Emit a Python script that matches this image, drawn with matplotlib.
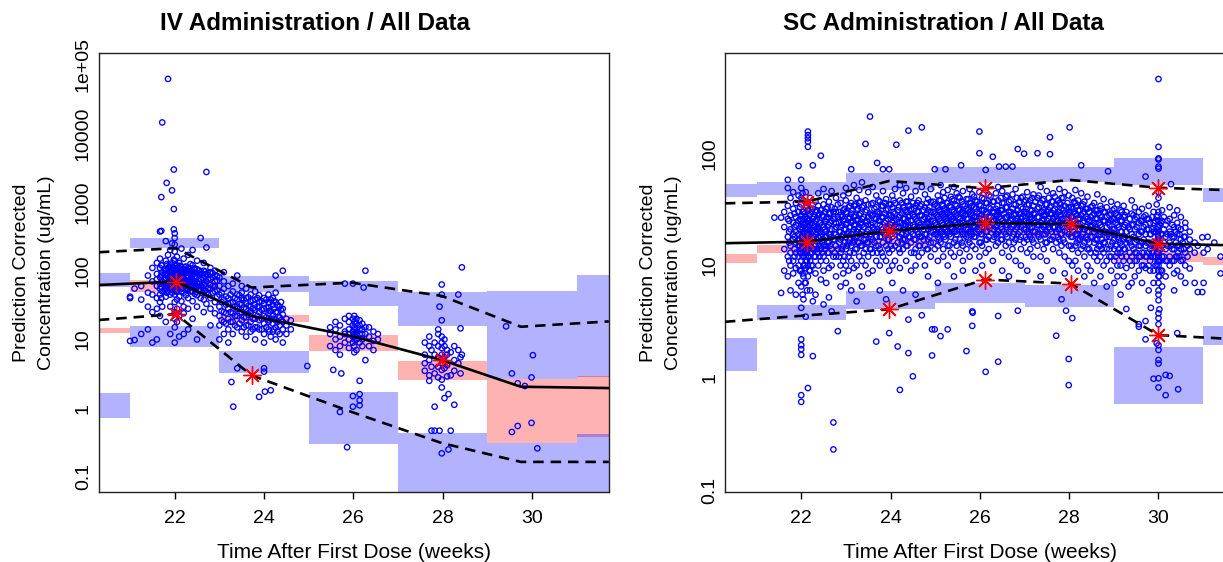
import matplotlib
matplotlib.use("Agg")
import matplotlib.pyplot as plt
from matplotlib.ticker import FixedLocator, FixedFormatter, NullLocator

plt.rcParams.update({"font.family": ["Liberation Sans", "DejaVu Sans"]})

W, H = 1223, 562

# ---- bins of the prediction intervals (weeks) ----
bin_lo = [20.0, 21, 23, 25, 27, 29, 31]
bin_hi = [21, 23, 25, 27, 29, 31, 33]

# ---- IV: simulated CI boxes (95th / median / 5th) ----
iv_p95_lo = [58.1, 213, 49.6, 30.7, 15.7, 2.7, 2.86]
iv_p95_hi = [93.8, 304, 84, 71.8, 49.6, 51, 87]
iv_p50_lo = [12.5, 49, 18.1, 6.8, 2.56, 0.31, 0.38]
iv_p50_hi = [14.5, 73, 22.7, 11.6, 4.9, 2.7, 2.9]
iv_p05_lo = [0.71, 7.7, 3.3, 0.305, 0.01, 0.01, 0.01]
iv_p05_hi = [1.67, 15.8, 6.8, 1.73, 0.43, 0.31, 0.42]

# ---- IV: observed percentile lines ----
iv_line_x = [20.3, 22.03, 23.72, 25.96, 27.98, 29.75, 31.72]
iv_med = [62, 69.4, 22, 11.2, 5.0, 2.05, 1.96]
iv_upp = [186, 213, 57, 67, 43, 15.3, 18.3]
iv_low = [19.2, 23.4, 3.0, 0.88, 0.31, 0.165, 0.165]
iv_star_x = [22.03, 22.03, 23.72, 27.98]
iv_star_y = [69.4, 23.4, 3.0, 5.0]

# ---- IV: observations (time, list of concentrations) ----
iv_cols = [
    (21.0, [42, 40, 9.5]), (21.1, [55, 9.8]), (21.25, [38, 60, 12]),
    (21.4, [48, 85, 30, 14]), (21.5, [70, 45, 110, 25, 9]),
    (21.6, [60, 90, 40, 130, 28, 75, 10]),
    (21.67, [373, 55, 80, 110, 150, 35, 65, 45, 22]),
    (21.7, [380, 1180, 58, 88, 120, 40]),
    (21.72, [14400, 70, 95, 120, 50, 30, 85]),
    (21.78, [65, 88, 52, 105, 75]),
    (21.8, [60, 100, 140, 75, 42, 55, 18, 270]),
    (21.82, [1900, 66, 92, 125, 48]),
    (21.85, [62000, 80, 65, 110, 90, 50, 170]),
    (21.88, [72, 98, 60, 115, 82]),
    (21.9, [70, 95, 58, 120, 45, 85, 200, 30, 12]),
    (21.92, [64, 90, 54, 108]),
    (21.94, [1480, 75, 60, 100, 130, 48, 88, 250]),
    (21.98, [790, 2970, 400, 68, 82, 105, 57, 145]),
    (22.0, [66, 80, 55, 110, 95, 140, 45, 70, 35, 25, 300, 350, 190, 9, 15, 20, 240]),
    (22.02, [75, 100, 62, 120, 85, 50]),
    (22.05, [72, 60, 90, 120, 50, 160, 38, 28, 18, 64, 85]),
    (22.08, [68, 92, 58, 112, 78]),
    (22.1, [65, 85, 55, 105, 130, 42, 75, 22, 11, 96]),
    (22.12, [74, 99, 61, 118]),
    (22.15, [70, 95, 50, 115, 60, 36, 210, 78]),
    (22.18, [66, 89, 55, 105, 80]),
    (22.2, [62, 88, 48, 100, 150, 30, 75, 24, 12]),
    (22.22, [71, 95, 59, 113]),
    (22.25, [68, 92, 56, 80, 115, 44]),
    (22.28, [64, 86, 53, 102]),
    (22.3, [55, 80, 110, 40, 68, 95, 170, 28, 14]),
    (22.33, [70, 93, 58, 110]),
    (22.35, [74, 62, 98, 50, 125]),
    (22.38, [62, 84, 51, 98]),
    (22.4, [70, 50, 90, 120, 36, 60, 200, 20]),
    (22.43, [67, 90, 55, 106]),
    (22.45, [64, 84, 46, 108]),
    (22.48, [60, 81, 49, 94]),
    (22.5, [58, 82, 44, 105, 65, 30, 140, 10]),
    (22.55, [65, 87, 53, 101]),
    (22.58, [300, 60, 75, 40, 95, 52]),
    (22.62, [58, 79, 47, 91]),
    (22.65, [52, 78, 38, 100, 62, 25, 130]),
    (22.68, [63, 84, 51, 97]),
    (22.71, [2740, 218, 70, 48, 90, 33]),
    (22.75, [56, 76, 45, 88]),
    (22.8, [55, 75, 40, 95, 62, 28, 110, 16]),
    (22.85, [60, 80, 48, 92]),
    (22.9, [50, 70, 35, 85, 60, 24, 100]),
    (22.95, [52, 72, 42, 84]),
    (23.0, [45, 30, 60, 22, 80, 16, 10]),
    (23.05, [35, 26, 48, 19]),
    (23.1, [38, 55, 25, 70, 18, 12, 95]),
    (23.15, [32, 24, 42, 17]),
    (23.2, [40, 28, 60, 20, 33, 14, 9]),
    (23.25, [34, 25, 45, 18]),
    (23.27, [2.4]), (23.31, [1.05]),
    (23.3, [35, 50, 24, 18, 65, 12]),
    (23.35, [30, 22, 40, 16]),
    (23.4, [30, 45, 22, 38, 15, 28, 3.8, 85]),
    (23.45, [33, 24, 44, 17]),
    (23.5, [32, 25, 48, 19, 40, 13, 60]),
    (23.55, [29, 21, 38, 15]),
    (23.6, [28, 40, 21, 55, 16, 34, 11]),
    (23.65, [31, 23, 41, 16]),
    (23.7, [30, 24, 45, 18, 36, 13, 26]),
    (23.75, [28, 20, 37, 14]),
    (23.8, [27, 38, 20, 50, 15, 32, 10]),
    (23.85, [30, 22, 40, 15]),
    (23.89, [25, 35, 19, 44, 14, 30, 1.46]),
    (23.95, [27, 20, 36, 14]),
    (24.0, [28, 22, 40, 17, 33, 12, 3.8, 3.4, 9]),
    (24.02, [1.74]),
    (24.05, [29, 21, 38, 15]),
    (24.1, [24, 35, 18, 45, 14, 29]),
    (24.12, [26, 19, 34, 13]),
    (24.15, [26, 20, 38, 1.82, 11]),
    (24.2, [22, 32, 17, 40, 13]),
    (24.22, [28, 20, 36, 14]),
    (24.26, [85, 25, 19, 35, 15, 48, 10]),
    (24.3, [25, 18, 32, 13]),
    (24.35, [21, 30, 16, 12]),
    (24.38, [27, 19, 35]),
    (24.42, [100, 23, 18, 28, 14, 9]),
    (24.5, [20, 16, 12]),
    (24.6, [19, 14]),
    (24.97, [4.1]),
    (25.48, [12, 8, 15]), (25.55, [3.6]),
    (25.6, [10, 14, 7, 18]),
    (25.7, [11, 16, 8, 6, 0.88]), (25.73, [3.2]),
    (25.81, [65, 13, 9, 20, 12]), (25.86, [0.27]),
    (25.9, [14, 10, 18, 7.5, 22, 12]),
    (25.99, [65, 16, 11, 20, 13, 9, 1.5, 1.05]),
    (26.02, [15, 12, 18, 10, 22, 8, 14, 6.5, 11]),
    (26.07, [13, 17, 10, 20, 7, 12]),
    (26.14, [16, 12, 19, 9, 14, 1.6, 1.3, 2.5, 1.1]),
    (26.2, [14, 10, 17, 8, 12]),
    (26.27, [100, 5.0, 12, 15]), (26.23, [57]),
    (26.35, [11, 15, 8]), (26.45, [13, 9.5, 7]), (26.55, [10, 12]),
    (27.6, [4.5, 6, 3.5, 9]),
    (27.7, [5, 8, 3, 11, 2.5]),
    (27.75, [7, 4, 0.47]),
    (27.82, [6, 9, 3.2, 1.05, 0.47]),
    (27.9, [5.5, 8, 12, 4, 2.8, 14]),
    (27.93, [30, 0.47]),
    (27.98, [6, 4.5, 9, 7.5, 3.6, 19, 2.6, 11, 0.22, 63, 45, 2.0]),
    (28.04, [5.5, 8, 3.8, 1.4, 10]),
    (28.1, [7, 4.2, 6, 2.9]),
    (28.13, [0.25, 1.6]),
    (28.18, [0.47, 6.5, 3]),
    (28.26, [5, 8, 1.12, 3.5]),
    (28.35, [45, 7, 4.5]),
    (28.4, [14.5, 5.5, 3.2]),
    (28.43, [112, 6]),
    (29.42, [15.5]), (29.55, [3.2, 0.45]), (29.68, [2.3, 0.55]),
    (29.84, [2.1]), (29.99, [2.8, 0.61]), (30.02, [5.9]), (30.12, [0.26]),
]

# ---- SC: simulated CI boxes ----
sc_p95_lo = [41.0, 42.5, 47.1, 54, 55.8, 52.1, 37.1]
sc_p95_hi = [53.0, 55.8, 67.1, 76, 76, 90.2, 48.7]
sc_p50_lo = [10.6, 13.0, 14.9, 18.7, 17.5, 10.8, 10.1]
sc_p50_hi = [12.7, 15.2, 17.6, 22.2, 20.7, 13.3, 12.0]
sc_p05_lo = [1.15, 3.27, 4.07, 4.66, 4.3, 0.59, 1.95]
sc_p05_hi = [2.24, 4.45, 5.96, 6.93, 6.7, 1.87, 2.9]

# ---- SC: observed percentile lines ----
sc_line_x = [20.29, 22.13, 23.97, 26.11, 28.03, 30.0, 31.8]
sc_med = [15.8, 16.3, 20.3, 24.0, 23.4, 15.6, 15.1]
sc_upp = [35.8, 37.1, 56.6, 48.7, 57.8, 49.3, 46.5]
sc_low = [3.15, 3.6, 4.07, 7.5, 6.9, 2.4, 2.2]
sc_star_x = [22.13, 26.11, 30.0, 22.13, 23.97, 26.11, 28.03, 30.0, 23.97, 26.11, 28.03, 30.0]
sc_star_y = [37.1, 48.7, 49.3, 16.3, 20.3, 24.0, 23.4, 15.6, 4.07, 7.5, 6.9, 2.4]

# ---- SC: observations ----
sc_cols = [
    (21.40, [26.7]), (21.55, [26.7, 5.7]),
    (21.62, [14, 22, 9, 30]),
    (21.70, [18, 12, 26, 34, 8, 49, 58]),
    (21.73, [16, 20, 11, 25]),
    (21.76, [15, 21, 10, 28, 40, 13, 6]),
    (21.82, [17, 24, 11, 32, 19, 8.5, 45]),
    (21.85, [14, 18, 22, 29, 12]),
    (21.88, [13, 20, 27, 16, 36, 9.5, 23, 5.5]),
    (21.94, [15, 19, 25, 12, 30, 42, 17, 10, 7, 77]),
    (21.97, [13, 17, 21, 26, 33, 9, 15]),
    (22.00, [16, 13, 22, 28, 11, 35, 18, 9, 40, 25, 6.5, 14, 2.2, 1.95, 1.8, 1.6,
             0.70, 0.61, 4.2, 58, 49]),
    (22.03, [15, 19, 24, 12, 30, 8.5, 17, 21, 5.5, 44]),
    (22.05, [17, 23, 12, 30, 15, 20, 8, 38, 26, 10, 5, 13]),
    (22.08, [14, 18, 23, 29, 10, 16, 20, 7]),
    (22.10, [15, 21, 27, 11, 33, 18, 14, 9.5, 45, 24, 7, 3.5, 12]),
    (22.13, [17, 13, 21, 26, 34, 11, 15, 19, 6]),
    (22.15, [16, 12, 25, 19, 31, 10, 22, 8, 36, 14, 156, 145, 136, 127, 114, 0.81]),
    (22.18, [15, 20, 25, 12, 17, 28, 9]),
    (22.20, [18, 24, 13, 29, 15, 21, 9, 40, 11, 6]),
    (22.23, [16, 19, 24, 13, 30, 10]),
    (22.26, [17, 14, 26, 20, 32, 10, 23, 78, 1.56, 4.8]),
    (22.29, [18, 22, 14, 27, 12]),
    (22.32, [19, 15, 25, 12, 30, 22, 8.5, 37, 5.5]),
    (22.35, [17, 21, 26, 14, 31]),
    (22.38, [16, 21, 28, 13, 34, 18, 10, 44]),
    (22.41, [15, 20, 24, 12, 29]),
    (22.44, [18, 24, 14, 31, 20, 11, 95, 7.5]),
    (22.47, [19, 23, 16, 28, 13]),
    (22.50, [17, 22, 27, 15, 35, 12, 9, 48, 4.5]),
    (22.53, [18, 21, 25, 14, 30]),
    (22.56, [20, 15, 26, 32, 18, 11, 41, 7]),
    (22.59, [16, 22, 27, 13, 33]),
    (22.62, [16, 23, 29, 13, 37, 19, 9.5, 5.2]),
    (22.65, [19, 24, 15, 29]),
    (22.68, [18, 14, 25, 33, 21, 10, 46, 3.9]),
    (22.72, [0.40, 0.23, 17, 26, 12, 30]),
    (22.75, [17, 21, 26, 13, 32]),
    (22.78, [19, 24, 15, 30, 12, 40, 8, 22]),
    (22.82, [2.6, 18, 27, 14, 35]),
    (22.85, [20, 24, 16, 30, 12]),
    (22.88, [17, 22, 13, 28, 36, 10, 20, 6.5]),
    (22.91, [18, 23, 27, 14]),
    (22.94, [19, 25, 15, 31, 11, 42, 8.5]),
    (22.97, [21, 26, 16, 32, 12]),
    (23.00, [18, 23, 14, 30, 21, 38, 10, 49, 7]),
    (23.03, [19, 24, 29, 15]),
    (23.06, [20, 26, 16, 33, 12, 44, 9]),
    (23.09, [22, 27, 17, 34, 13]),
    (23.12, [19, 24, 15, 29, 36, 11, 72, 6]),
    (23.15, [20, 25, 31, 16]),
    (23.18, [21, 17, 27, 13, 34, 23, 9.5, 52]),
    (23.21, [23, 28, 18, 35, 14]),
    (23.24, [18, 25, 14, 31, 20, 40, 10, 4.8]),
    (23.27, [21, 26, 16, 32]),
    (23.30, [22, 16, 28, 12, 36, 19, 8, 47]),
    (23.33, [19, 24, 29, 15, 37]),
    (23.36, [20, 26, 15, 33, 23, 11, 55, 6.5]),
    (23.40, [22, 27, 17, 34, 13]),
    (23.44, [19, 24, 30, 14, 38, 121, 10, 17]),
    (23.47, [20, 25, 31, 16]),
    (23.50, [21, 27, 16, 35, 12, 45, 8.5, 23]),
    (23.54, [212, 19, 29, 14]),
    (23.57, [23, 28, 18, 35, 14]),
    (23.60, [22, 17, 28, 36, 13, 24, 50, 9]),
    (23.64, [21, 26, 32, 16]),
    (23.68, [20, 26, 15, 33, 2.1, 11, 42, 18]),
    (23.70, [82, 21, 30, 13]),
    (23.73, [20, 25, 30, 15, 38]),
    (23.76, [23, 18, 29, 37, 14, 25, 10, 6]),
    (23.80, [22, 27, 18, 34, 13]),
    (23.83, [72, 21, 27, 16, 34, 12, 46]),
    (23.87, [24, 29, 19, 36]),
    (23.90, [20, 25, 31, 15, 39, 22, 11, 5]),
    (23.94, [21, 26, 17, 32, 14]),
    (23.97, [72, 2.5, 22, 28, 17, 35, 13, 9]),
    (24.01, [23, 28, 19, 35, 15]),
    (24.04, [21, 27, 18, 33, 14, 42, 24, 10, 7]),
    (24.07, [25, 30, 20, 38]),
    (24.10, [23, 19, 29, 36, 15, 48, 11]),
    (24.13, [119, 22, 26]),
    (24.16, [1.9, 20, 31, 16]),
    (24.19, [22, 27, 18, 33, 14]),
    (24.21, [0.78, 24, 18, 28, 38, 13, 52, 9.5]),
    (24.25, [24, 29, 19, 36, 16]),
    (24.28, [21, 26, 17, 33, 14, 44, 23, 6]),
    (24.32, [21, 26, 31, 17]),
    (24.35, [23, 19, 30, 37, 15, 11, 49]),
    (24.38, [25, 30, 20, 37, 15]),
    (24.40, [3.3, 1.66, 22, 27, 18, 34, 159]),
    (24.43, [23, 28, 18, 34]),
    (24.46, [20, 25, 16, 32, 13, 41, 9]),
    (24.50, [1.03, 23, 28, 19, 36]),
    (24.53, [22, 27, 32, 17, 13]),
    (24.56, [21, 26, 17, 34, 14, 46, 10, 5.5]),
    (24.60, [25, 30, 20, 36]),
    (24.63, [24, 19, 30, 38, 15, 22, 12]),
    (24.66, [23, 28, 18, 34, 15]),
    (24.70, [170, 3.6, 22, 28, 18, 35, 13, 50]),
    (24.74, [21, 26, 31, 17]),
    (24.77, [23, 27, 19, 33, 15, 43, 10]),
    (24.81, [24, 29, 19, 36, 14]),
    (24.84, [21, 26, 17, 31, 14, 39, 24, 8]),
    (24.87, [22, 27, 33, 18]),
    (24.90, [25, 20, 30, 37, 16, 12, 48]),
    (24.93, [1.58, 2.7, 22]),
    (24.96, [25, 30, 20, 37, 16]),
    (24.99, [72, 2.7, 24, 29, 19, 35, 14]),
    (25.03, [23, 28, 19, 34]),
    (25.06, [22, 27, 18, 33, 15, 42, 11, 7]),
    (25.09, [26, 31, 21, 38, 17]),
    (25.12, [2.35, 25, 20, 30, 38, 16, 52]),
    (25.15, [24, 29, 20, 35]),
    (25.18, [23, 28, 19, 34, 14, 45, 12]),
    (25.21, [27, 32, 22, 40, 18]),
    (25.23, [72, 26, 21, 31, 17]),
    (25.26, [25, 30, 20, 36]),
    (25.28, [2.7, 24, 29, 20, 36, 15, 47, 10]),
    (25.32, [23, 28, 19, 34, 15]),
    (25.35, [22, 27, 18, 33, 25, 13, 41]),
    (25.38, [26, 31, 21, 39]),
    (25.42, [25, 30, 20, 38, 16, 50, 12, 8]),
    (25.45, [24, 29, 20, 35, 17]),
    (25.48, [23, 28, 19, 34, 15, 44]),
    (25.52, [27, 32, 22, 41]),
    (25.55, [26, 21, 31, 40, 17, 24, 13]),
    (25.58, [78, 22, 29]),
    (25.60, [25, 30, 20, 37, 16]),
    (25.62, [24, 29, 19, 35, 15, 46, 11, 9]),
    (25.66, [23, 28, 19, 34]),
    (25.70, [1.73, 26, 21, 32, 18, 39, 14]),
    (25.74, [26, 31, 21, 39, 17]),
    (25.77, [24, 30, 20, 36, 16, 48, 12]),
    (25.80, [24, 29, 20, 36]),
    (25.83, [2.9, 3.9, 25, 28, 19, 34, 15, 43]),
    (25.84, [3.8, 22]),
    (25.87, [27, 33, 22, 41, 18]),
    (25.90, [27, 22, 32, 38, 18, 25, 14, 9]),
    (25.94, [25, 30, 21, 37]),
    (25.99, [156, 100, 24, 29, 20, 35, 16, 45, 12]),
    (26.02, [23, 28, 19, 34, 16]),
    (26.05, [26, 22, 31, 19, 40, 15, 28, 10]),
    (26.09, [26, 31, 22, 39]),
    (26.13, [71, 1.13, 24, 30, 20, 36, 17, 47, 13]),
    (26.16, [24, 29, 20, 36, 17]),
    (26.20, [27, 22, 33, 18, 42, 25, 14]),
    (26.24, [27, 32, 22, 41]),
    (26.29, [93, 25, 30, 21, 37, 17, 11]),
    (26.32, [25, 30, 21, 37, 18]),
    (26.36, [26, 22, 32, 19, 44, 15, 28]),
    (26.39, [23, 28, 19, 34]),
    (26.41, [3.55, 1.39, 24, 30, 20, 38, 16, 50]),
    (26.43, [76, 27]),
    (26.47, [26, 31, 22, 40, 17]),
    (26.50, [25, 31, 21, 36, 17, 46, 13, 9]),
    (26.54, [24, 29, 20, 36]),
    (26.58, [76, 27, 23, 33, 19, 41, 15]),
    (26.61, [27, 33, 23, 42, 18]),
    (26.65, [24, 30, 20, 37, 16, 28, 12, 8]),
    (26.69, [25, 30, 21, 38]),
    (26.73, [76, 26, 22, 32, 18, 43, 14]),
    (26.76, [23, 28, 19, 35, 16]),
    (26.80, [25, 29, 21, 35, 17, 48, 11]),
    (26.83, [26, 31, 22, 40]),
    (26.85, [109, 3.96, 24, 31, 19]),
    (26.89, [24, 29, 20, 37, 17]),
    (26.92, [27, 22, 33, 18, 40, 26, 14, 10]),
    (26.96, [27, 32, 23, 41]),
    (26.99, [99, 25, 30, 21, 37, 16]),
    (27.03, [25, 30, 21, 38, 18]),
    (27.06, [24, 29, 20, 35, 17, 45, 13, 9]),
    (27.10, [23, 28, 19, 35]),
    (27.13, [26, 31, 22, 38, 18, 27, 14]),
    (27.17, [26, 31, 22, 40, 17]),
    (27.20, [25, 29, 20, 34, 16, 43, 12]),
    (27.24, [24, 29, 20, 37]),
    (27.29, [100, 27, 23, 32, 19, 40, 15]),
    (27.32, [27, 33, 23, 42, 18]),
    (27.36, [24, 30, 21, 36, 17, 50, 12, 8]),
    (27.40, [25, 30, 21, 38]),
    (27.43, [26, 22, 31, 19, 39, 14, 28]),
    (27.47, [23, 28, 19, 35, 16]),
    (27.50, [25, 30, 20, 35, 16, 46, 11]),
    (27.54, [26, 31, 22, 40]),
    (27.57, [139, 98, 24, 29, 21, 33, 17]),
    (27.61, [24, 29, 20, 37, 17]),
    (27.64, [26, 31, 22, 37, 18, 44, 14, 9]),
    (27.68, [27, 32, 22, 41]),
    (27.71, [2.37, 25, 29, 20, 35, 16, 28]),
    (27.75, [25, 30, 21, 38, 18]),
    (27.78, [24, 30, 21, 36, 17, 48, 13]),
    (27.81, [23, 28, 19, 35]),
    (27.83, [5.0, 26, 22, 32, 19, 40, 15]),
    (27.87, [26, 31, 22, 40, 17]),
    (27.90, [25, 29, 20, 34, 16, 45, 12, 8.5]),
    (27.93, [3.96, 24]),
    (27.96, [24, 29, 20, 36]),
    (27.99, [1.47, 0.86, 23, 28, 19, 33, 15, 42, 11]),
    (28.01, [170, 24, 30]),
    (28.04, [22, 27, 18, 33, 15]),
    (28.07, [3.4, 22, 27, 18, 32, 14, 40, 10]),
    (28.11, [25, 30, 20, 37]),
    (28.14, [23, 29, 19, 36, 15, 47, 11]),
    (28.17, [23, 28, 19, 34, 16]),
    (28.20, [21, 26, 17, 31, 13, 38, 24, 9]),
    (28.24, [21, 26, 17, 31]),
    (28.27, [78, 22, 28, 18, 34, 14, 44]),
    (28.31, [24, 29, 19, 35, 15]),
    (28.34, [21, 25, 16, 30, 12, 37, 8]),
    (28.38, [22, 27, 18, 32]),
    (28.41, [20, 26, 17, 32, 14, 41, 10]),
    (28.45, [20, 25, 16, 30, 14]),
    (28.48, [22, 27, 18, 33, 13, 23, 9]),
    (28.52, [23, 28, 18, 34]),
    (28.56, [20, 24, 16, 29, 12, 36, 7]),
    (28.59, [21, 26, 17, 31, 13]),
    (28.63, [21, 26, 17, 31, 14, 43, 11]),
    (28.66, [19, 24, 15, 29]),
    (28.70, [19, 23, 15, 28, 12, 34, 20, 8]),
    (28.73, [22, 27, 17, 32, 14]),
    (28.77, [20, 25, 16, 30, 13, 39, 10]),
    (28.80, [20, 25, 16, 30]),
    (28.84, [18, 22, 14, 27, 11, 33, 6.5]),
    (28.87, [69, 19, 24]),
    (28.90, [18, 23, 14, 28, 12]),
    (28.94, [20, 25, 15, 29, 12, 37, 9]),
    (28.97, [21, 26, 16, 31]),
    (29.01, [17, 21, 14, 26, 11, 32, 19, 7]),
    (29.04, [19, 24, 15, 29, 12]),
    (29.08, [18, 23, 13, 28, 10, 35, 8]),
    (29.11, [17, 22, 14, 27]),
    (29.15, [16, 20, 13, 25, 10, 31, 5.5]),
    (29.18, [20, 25, 15, 30, 12]),
    (29.22, [17, 22, 14, 27, 11, 34, 8]),
    (29.25, [18, 23, 14, 28]),
    (29.28, [4.1, 16, 20, 12, 24, 9.5, 30]),
    (29.33, [6.5, 17, 22]),
    (29.36, [16, 21, 13, 26, 11]),
    (29.40, [15, 19, 12, 23, 10, 29, 7, 38]),
    (29.44, [18, 23, 14, 28]),
    (29.47, [16, 21, 13, 26, 11, 33, 8]),
    (29.51, [17, 22, 13, 27, 11]),
    (29.56, [2.85, 3.0, 15, 19, 12, 24, 9, 30]),
    (29.60, [15, 20, 12, 25]),
    (29.63, [16, 20, 13, 25, 10, 32, 7]),
    (29.67, [17, 22, 13, 27, 10]),
    (29.71, [62, 3.2, 2.2, 15, 19, 12, 23, 9.5, 28]),
    (29.74, [16, 21, 12, 26]),
    (29.78, [16, 21, 13, 26, 10, 34, 6]),
    (29.81, [14, 19, 11, 24, 9]),
    (29.83, [4.2, 15, 19, 12]),
    (29.86, [16, 21, 13, 27]),
    (29.89, [0.98, 15, 20, 12, 24, 9, 30, 7]),
    (29.93, [15, 20, 12, 25, 10]),
    (29.96, [2.03, 16, 21, 13, 27, 10, 35]),
    (29.98, [17, 22, 13, 28, 11, 15, 19]),
    (30.00, [458, 114, 90, 88, 76, 73, 16, 12, 20, 9, 25, 14, 7, 30, 11, 18, 5.5,
             40, 8, 22, 4.9, 3.75, 3.4, 3.0, 1.95, 1.77, 1.44, 1.34, 0.99, 0.82,
             13, 6, 45, 10]),
    (30.02, [4.07, 17, 11, 23, 8]),
    (30.05, [14, 19, 11, 24, 9]),
    (30.08, [15, 19, 12, 25, 9, 31, 6.5]),
    (30.12, [16, 21, 12, 27]),
    (30.16, [0.70, 1.06, 14, 18, 11, 23, 8]),
    (30.20, [15, 19, 11, 25]),
    (30.25, [1.04, 16, 20, 12, 26, 10, 33]),
    (30.28, [53, 15, 19]),
    (30.31, [14, 18, 11, 23]),
    (30.35, [14, 18, 11, 22, 8.5, 28, 6]),
    (30.39, [16, 20, 12]),
    (30.42, [2.5, 15, 19, 12, 24, 9, 31]),
    (30.44, [0.79, 21.7, 13]),
    (30.47, [15, 19, 12]),
    (30.50, [14, 17, 11, 21, 8, 27]),
    (30.54, [11.2, 16]),
    (30.57, [14, 18]),
    (30.60, [21.7, 13, 18, 10, 24, 7]),
    (30.65, [15, 12]),
    (30.70, [9.4, 14, 17, 20]),
    (30.81, [7.0, 13, 16]),
    (30.88, [5.8, 15]),
    (30.98, [17.8, 5.8]),
    (31.01, [7.0, 13]),
    (31.10, [14, 18]),
    (31.25, [16]),
    (31.39, [8.5, 12]),
]


def flatten(cols):
    xs, ys = [], []
    for x, yl in cols:
        xs += [x] * len(yl)
        ys += yl
    return xs, ys


def panel(ax, p95lo, p95hi, p50lo, p50hi, p05lo, p05hi, cols,
          lx, med, upp, low, stx, sty, yticks, ylabels, ylim):
    for i in range(len(bin_lo)):
        xx = [bin_lo[i], bin_hi[i]]
        ax.fill_between(xx, p95lo[i], p95hi[i], color="blue", alpha=0.3, lw=0, zorder=1)
        ax.fill_between(xx, p50lo[i], p50hi[i], color="red", alpha=0.3, lw=0, zorder=1)
        ax.fill_between(xx, p05lo[i], p05hi[i], color="blue", alpha=0.3, lw=0, zorder=1)
    xs, ys = flatten(cols)
    ax.scatter(xs, ys, s=15, facecolors="none", edgecolors="blue",
               linewidths=0.95, zorder=2)
    ax.plot(lx, med, color="black", lw=1.9, zorder=3)
    for yy in (upp, low):
        ax.plot(lx, yy, color="black", lw=1.9, ls=(0, (4, 2.6)), zorder=3)
    ax.plot(stx, sty, ls="none", marker=(8, 2, 0), ms=13, mec="red", mew=1.0, zorder=4)
    ax.set_yscale("log")
    ax.set_xlim(20.3, 31.72)
    ax.set_ylim(*ylim)
    ax.yaxis.set_major_locator(FixedLocator(yticks))
    ax.yaxis.set_major_formatter(FixedFormatter(ylabels))
    ax.yaxis.set_minor_locator(NullLocator())
    ax.set_xticks([22, 24, 26, 28, 30])
    ax.tick_params(axis="x", length=5, width=1, pad=7.5, labelsize=14)
    ax.tick_params(axis="y", length=0, pad=5, labelsize=14, labelrotation=90)
    for lab in ax.get_yticklabels():
        lab.set_va("center")
    for sp in ax.spines.values():
        sp.set_linewidth(1.0)
        sp.set_color("#222222")


fig = plt.figure(figsize=(W / 100, H / 100), dpi=100)
ax_b, ax_h = 1 - 492.3 / H, (492.3 - 53.3) / H
ax1 = fig.add_axes([98.8 / W, ax_b, 510 / W, ax_h])
ax2 = fig.add_axes([725.3 / W, ax_b, 510 / W, ax_h])

panel(ax1, iv_p95_lo, iv_p95_hi, iv_p50_lo, iv_p50_hi, iv_p05_lo, iv_p05_hi, iv_cols,
      iv_line_x, iv_med, iv_upp, iv_low, iv_star_x, iv_star_y,
      [0.1, 1, 10, 100, 1000, 10000, 100000],
      ["0.1", "1", "10", "100", "1000", "10000", "1e+05"],
      (10 ** -1.225, 10 ** 5.165))
panel(ax2, sc_p95_lo, sc_p95_hi, sc_p50_lo, sc_p50_hi, sc_p05_lo, sc_p05_hi, sc_cols,
      sc_line_x, sc_med, sc_upp, sc_low, sc_star_x, sc_star_y,
      [0.1, 1, 10, 100], ["0.1", "1", "10", "100"],
      (10 ** -1.02, 10 ** 2.89))

for left, title, tx in [(98.8, "IV Administration / All Data", 315),
                        (725.3, "SC Administration / All Data", 943)]:
    fig.text(tx / W, 1 - 24 / H, title, ha="center", va="center",
             fontsize=17.5, fontweight="bold")
    fig.text((left + 255) / W, 1 - 553 / H, "Time After First Dose (weeks)",
             ha="center", va="center", fontsize=15)
    fig.text((left - 77) / W, 1 - 272.8 / H, "Prediction Corrected",
             ha="center", va="center", rotation=90, fontsize=14)
    fig.text((left - 52) / W, 1 - 272.8 / H, "Concentration (ug/mL)",
             ha="center", va="center", rotation=90, fontsize=14)

fig.savefig("out.png", dpi=100)
